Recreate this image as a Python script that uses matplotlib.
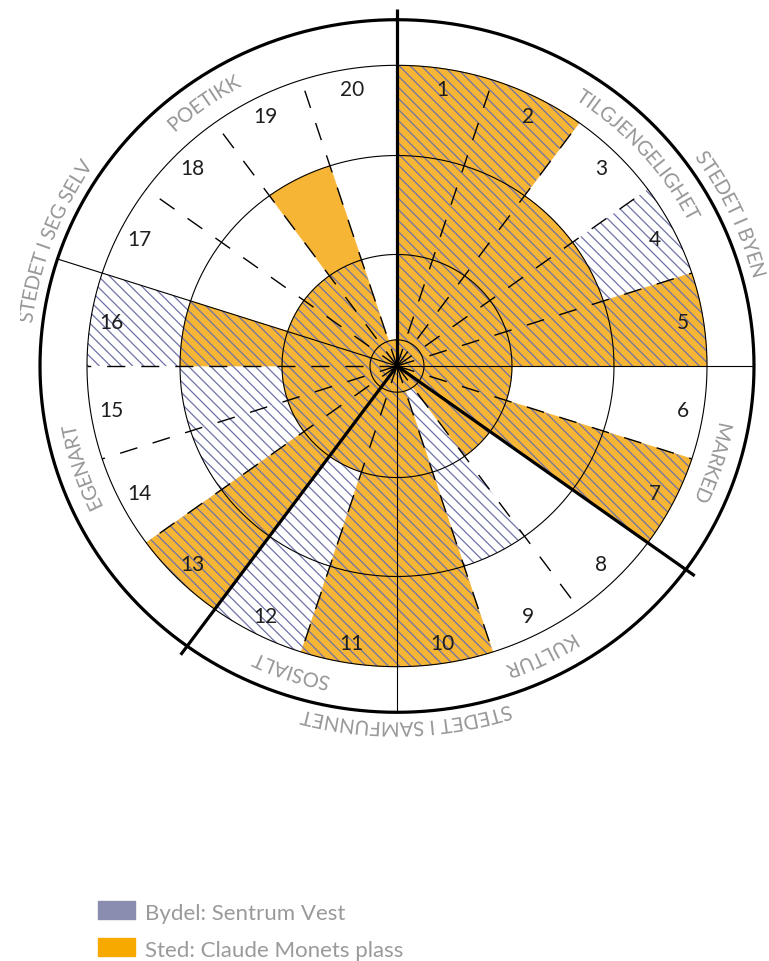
import numpy as np
import matplotlib
matplotlib.use('Agg')
import matplotlib.pyplot as plt
import matplotlib.patheffects as pe
from matplotlib.patches import Rectangle
from matplotlib.transforms import Bbox, TransformedBbox
from matplotlib.font_manager import FontProperties

# scores 0-3 for each of the 20 segments (segment 1 starts at north, runs clockwise)
segments = list(range(1, 21))
sted = [3, 3, 2, 2, 3, 1, 3, 1, 0, 3, 3, 1, 3, 1, 1, 2, 1, 1, 2, 0]
bydel = [3, 3, 2, 3, 3, 1, 3, 1, 2, 3, 3, 3, 3, 2, 2, 3, 1, 1, 1, 0]

themes = ['TILGJENGELIGHET', 'MARKED', 'KULTUR', 'SOSIALT', 'EGENART', 'POETIKK']
groups = ['STEDET I BYEN', 'STEDET I SAMFUNNET', 'STEDET I SEG SELV']
legend_labels = ['Bydel: Sentrum Vest', 'Sted: Claude Monets plass']

# layout
W, H, DPI = 769, 962, 100
CX, CY = 397, 367          # centre in pixels (from top-left)
SQ = 0.97                  # the wheel is a little squashed vertically
RMAX = 400
LEVEL_R = [27, 115, 217, 310]   # radius of score 0..3
OUTER_R = 357
theme_angle = [48, 107.5, 154, 198.5, 251.5, 324.5]
group_angle = [65, 178.5, 290.5]

ORANGE = '#f7b536'
HATCH = '#6f72a8'
LABEL_GRAY = '#9a9a9a'
FONT = 'Lato'

plt.rcParams['hatch.linewidth'] = 0.9

fig = plt.figure(figsize=(W / DPI, H / DPI), dpi=DPI)
ax = fig.add_axes([(CX - RMAX) / W, (H - CY - RMAX * SQ) / H,
                   2 * RMAX / W, 2 * RMAX * SQ / H], projection='polar')
ax.set_aspect('auto')
ax.set_theta_zero_location('N')
ax.set_theta_direction(-1)
ax.set_ylim(0, RMAX)
ax.axis('off')

step = 360 / len(segments)
theta = np.radians((np.array(segments) - 0.5) * step)
width = np.radians(step)

# Sted: solid orange, Bydel: hatch only
ax.bar(theta, np.take(LEVEL_R, sted), width=width, color=ORANGE,
       edgecolor=ORANGE, linewidth=0.5, zorder=1)
ax.bar(theta, np.take(LEVEL_R, bydel), width=width, facecolor='none',
       edgecolor=HATCH, linewidth=0, hatch='\\\\\\', zorder=2)

# rings
th = np.linspace(0, 2 * np.pi, 721)
for r in LEVEL_R:
    ax.plot(th, np.full_like(th, r), color='black', lw=0.8, zorder=3)
ax.plot(th, np.full_like(th, OUTER_R), color='black', lw=2.3, zorder=3)

# spokes
for k in range(len(segments)):
    a = k * step
    t = np.radians(a)
    if a in (0, 126, 216):
        ax.plot([t, t], [0, 368], color='black', lw=2.3, zorder=4,
                solid_capstyle='butt')
    elif a in (90, 180, 288):
        ax.plot([t, t], [0, OUTER_R], color='black', lw=0.8, zorder=4)
    else:
        ax.plot([t, t], [0, LEVEL_R[-1]], color='black', lw=1.0, zorder=4,
                dashes=(13, 11.5))

# segment numbers
for s, t in zip(segments, theta):
    ax.text(t, 289, str(s), ha='center', va='center', fontsize=15,
            color='#1e1e1e', family=FONT, zorder=5)

# curved labels, one glyph at a time (drawn as paths so rotation is exact)
clip = TransformedBbox(Bbox([[20 / W, 0], [1, 1]]), fig.transFigure)
renderer = fig.canvas.get_renderer()


def ink_width(s, prop):
    return renderer.get_text_width_height_descent(s, prop, ismath=False)[0]


def curved(text, angle, radius, size=14.5):
    prop = FontProperties(family=FONT, size=size)
    total = ink_width(text, prop)
    for i, c in enumerate(text):
        if c == ' ':
            continue
        mid = ink_width(text[:i + 1], prop) - ink_width(c, prop) / 2
        a = angle + np.degrees((mid - total / 2) / radius)
        tx = ax.text(np.radians(a), radius, c, rotation=-a, rotation_mode='anchor',
                     ha='center', va='center', color=LABEL_GRAY,
                     fontproperties=prop, zorder=5,
                     path_effects=[pe.Normal()])
        tx.set_clip_on(True)
        tx.set_clip_box(clip)


for name, a in zip(themes, theme_angle):
    curved(name, a, 333)
for name, a in zip(groups, group_angle):
    curved(name, a, 373)

# legend
legend_colors = ['#8a8cb0', '#f8a900']
legend_base = [920, 957]
for lab, col, yb in zip(legend_labels, legend_colors, legend_base):
    fig.add_artist(Rectangle((98 / W, 1 - yb / H), 37 / W, 18 / H,
                             transform=fig.transFigure, color=col))
    fig.text(145 / W, 1 - yb / H, lab, va='baseline', ha='left', fontsize=16,
             color=LABEL_GRAY, family=FONT)

fig.savefig('out.png', dpi=DPI)
